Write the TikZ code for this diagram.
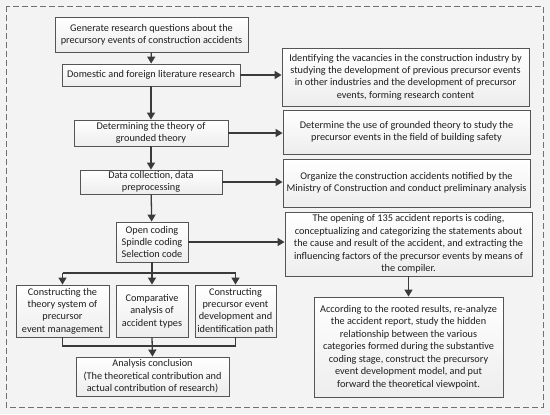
\documentclass[tikz,border=0pt]{standalone}
\usepackage{fontspec}
\setmainfont{Carlito}
\usetikzlibrary{arrows.meta,calc}
\definecolor{bgc}{HTML}{F3F3F3}
\definecolor{linec}{HTML}{3A3A3A}
\definecolor{boxc}{HTML}{555555}
\definecolor{dashc}{HTML}{707070}
\tikzset{
  box/.style={draw=boxc, line width=0.9bp, top color=white, bottom color=gray!14,
    align=center, inner sep=1bp, font=\fontsize{10.3}{12.5}\selectfont, text=black!88},
  conn/.style={draw=linec, line width=1.3bp},
  arr/.style={conn, -{Triangle[length=7bp,width=8bp]}},
}
\newcommand{\bx}[6]{% name, x1, y1, x2, y2, text
  \node[box, minimum width={(#4-#2)*1bp}, minimum height={(#5-#3)*1bp}] (#1) at ({(#2+#4)/2},{(#3+#5)/2}) {#6};}
\begin{document}
\begin{tikzpicture}[x=1bp,y=-1bp]
\fill[bgc] (0,0) rectangle (550,414);
\useasboundingbox (0,0) rectangle (550,414);
\draw[dashc, line width=1bp, dash pattern=on 6bp off 3bp] (6,6) rectangle (543,407);

\bx{b1}{55}{17}{248}{52}{Generate research questions about the\\precursory events of construction accidents}
\bx{b2}{62}{64}{240}{86}{Domestic and foreign literature research}
\bx{b3}{74}{120}{228}{146}{Determining the theory of\\grounded theory}
\bx{b4}{80}{170}{222}{194}{Data collection, data\\preprocessing}
\bx{b5}{116}{222}{188}{262}{Open coding\\Spindle coding\\Selection code}
\bx{c1}{16}{285}{109}{337}{Constructing the\\theory system of\\precursor\\event management}
\bx{c2}{116}{285}{188}{337}{Comparative\\analysis of\\accident types}
\bx{c3}{195}{285}{276}{337}{Constructing\\precursor event\\development and\\identification path}
\bx{d1}{76}{357}{229}{396}{Analysis conclusion\\(The theoretical contribution and\\actual contribution of research)}

\bx{r1}{282}{48}{529}{106}{Identifying the vacancies in the construction industry by\\studying the development of previous precursor events\\in other industries and the development of precursor\\events, forming research content}
\bx{r2}{283}{110}{530}{154}{Determine the use of grounded theory to study the\\precursor events in the field of building safety}
\bx{r3}{283}{159}{530}{207}{Organize the construction accidents notified by the\\Ministry of Construction and conduct preliminary analysis}
\bx{r4}{285}{212}{532}{276}{The opening of 135 accident reports is coding,\\conceptualizing and categorizing the statements about\\the cause and result of the accident, and extracting the\\influencing factors of the precursor events by means of\\the compiler.}
\bx{r5}{314}{297}{503}{397}{According to the rooted results, re-analyze\\the accident report, study the hidden\\relationship between the various\\categories formed during the substantive\\coding stage, construct the precursory\\event development model, and put\\forward the theoretical viewpoint.}

\draw[arr] (b1) -- (b2);
\draw[arr] (b2) -- (b3);
\draw[arr] (b3) -- (b4);
\draw[arr] (b4) -- (b5);
\draw[arr] (b2.east) -- (b2.east -| r1.west);
\draw[arr] (b3.east) -- (b3.east -| r2.west);
\draw[arr] (b4.east) -- (b4.east -| r3.west);
\draw[arr] (b5.east) -- (b5.east -| r4.west);
\draw[arr] (r4) -- (r4.south |- r5.north);

\coordinate (j1) at (152,273);
\coordinate (j2) at (152,346);
\draw[conn] (b5.south) -- (j1);
\draw[conn] (c1.north |- j1) -- (c3.north |- j1);
\draw[arr] (c1.north |- j1) -- (c1.north);
\draw[arr] (j1) -- (c2.north);
\draw[arr] (c3.north |- j1) -- (c3.north);
\draw[conn] (c1.south) -- (c1.south |- j2) -- (c3.south |- j2) -- (c3.south);
\draw[arr] (c2.south) -- (d1.north);
\end{tikzpicture}
\end{document}
